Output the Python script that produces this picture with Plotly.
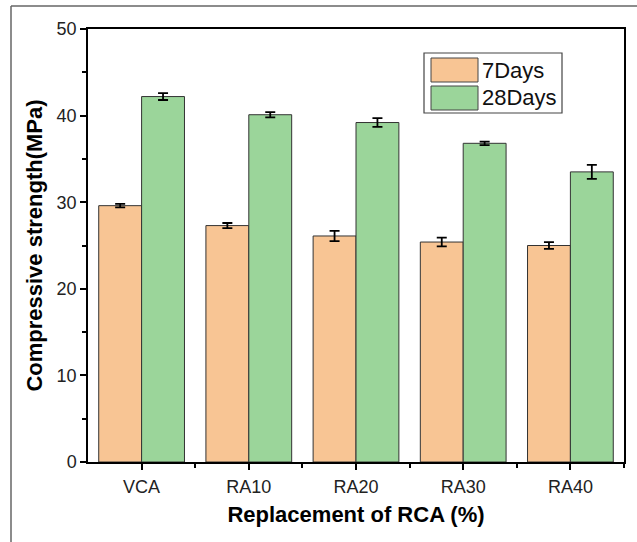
import plotly.graph_objects as go

# Compressive strength by replacement level of recycled coarse aggregate
categories = ["VCA", "RA10", "RA20", "RA30", "RA40"]
strength_7d = [29.6, 27.3, 26.1, 25.4, 25.0]
err_7d = [0.2, 0.3, 0.6, 0.5, 0.4]
strength_28d = [42.2, 40.1, 39.2, 36.8, 33.5]
err_28d = [0.4, 0.3, 0.5, 0.2, 0.8]
series_names = ["7Days", "28Days"]
series_colors = ["#F8C594", "#9BD59A"]

FONT = "Liberation Sans, Arial, sans-serif"

fig = go.Figure()
for name, vals, errs, col in zip(series_names, [strength_7d, strength_28d],
                                 [err_7d, err_28d], series_colors):
    fig.add_trace(go.Bar(
        x=categories, y=vals, name=name,
        marker=dict(color=col, line=dict(color="#333333", width=1)),
        error_y=dict(type="data", array=errs, color="black", thickness=1.8, width=5),
        showlegend=False,
    ))

# Plot area geometry in pixels (for placing the legend box and outer frame)
W, H = 637, 542
L, R, T, B = 88, 13, 29, 80
pw, ph = W - L - R, H - T - B

def px(x):
    return (x - L) / pw

def py(y):
    return (H - B - y) / ph

shapes = []
annotations = []

# Legend box with large swatches
shapes.append(dict(type="rect", xref="paper", yref="paper",
                   x0=px(424), x1=px(562), y0=py(113), y1=py(53),
                   line=dict(color="#444444", width=1.2), fillcolor="white"))
for i, (name, col) in enumerate(zip(series_names, series_colors)):
    top = 58 + i * 28
    shapes.append(dict(type="rect", xref="paper", yref="paper",
                       x0=px(431), x1=px(478), y0=py(top + 24), y1=py(top),
                       line=dict(color="#444444", width=1), fillcolor=col))
    annotations.append(dict(xref="paper", yref="paper", x=px(480), y=py(top + 12),
                            text=name, showarrow=False, xanchor="left", yanchor="middle",
                            font=dict(family=FONT, size=22, color="#111111")))

# Outer frame lines (top and left)
shapes.append(dict(type="line", xref="paper", yref="paper",
                   x0=px(11), x1=px(W), y0=py(6), y1=py(6),
                   line=dict(color="#666666", width=1.5)))
shapes.append(dict(type="line", xref="paper", yref="paper",
                   x0=px(11), x1=px(11), y0=py(6), y1=py(H),
                   line=dict(color="#666666", width=1.5)))

fig.update_layout(
    width=W, height=H,
    margin=dict(l=L, r=R, t=T, b=B),
    paper_bgcolor="white", plot_bgcolor="white",
    barmode="group", bargap=0.2, bargroupgap=0,
    font=dict(family=FONT, color="#222222"),
    shapes=shapes, annotations=annotations,
)
fig.update_xaxes(
    showline=True, linecolor="black", linewidth=1.5, mirror=True,
    ticks="outside", ticklen=6, tickwidth=1.5, tickcolor="black",
    tickfont=dict(size=18, color="#222222"), ticklabelstandoff=2,
    minor=dict(ticks="outside", ticklen=4, tickwidth=1.5, tickcolor="black",
               tickmode="array", tickvals=[0.5, 1.5, 2.5, 3.5, 4.5]),
    title=dict(text="<b>Replacement of RCA (%)</b>", font=dict(size=22, color="black"),
               standoff=10),
    showgrid=False,
)
fig.update_yaxes(
    range=[0, 50], dtick=10,
    showline=True, linecolor="black", linewidth=1.5, mirror=True,
    ticks="outside", ticklen=6, tickwidth=1.5, tickcolor="black",
    tickfont=dict(size=18, color="#222222"),
    minor=dict(ticks="outside", ticklen=4, tickwidth=1.5, tickcolor="black", dtick=5),
    title=dict(text="<b>Compressive strength(MPa)</b>", font=dict(size=22, color="black"),
               standoff=8),
    showgrid=False, zeroline=False,
)

fig.write_html("out.html")
